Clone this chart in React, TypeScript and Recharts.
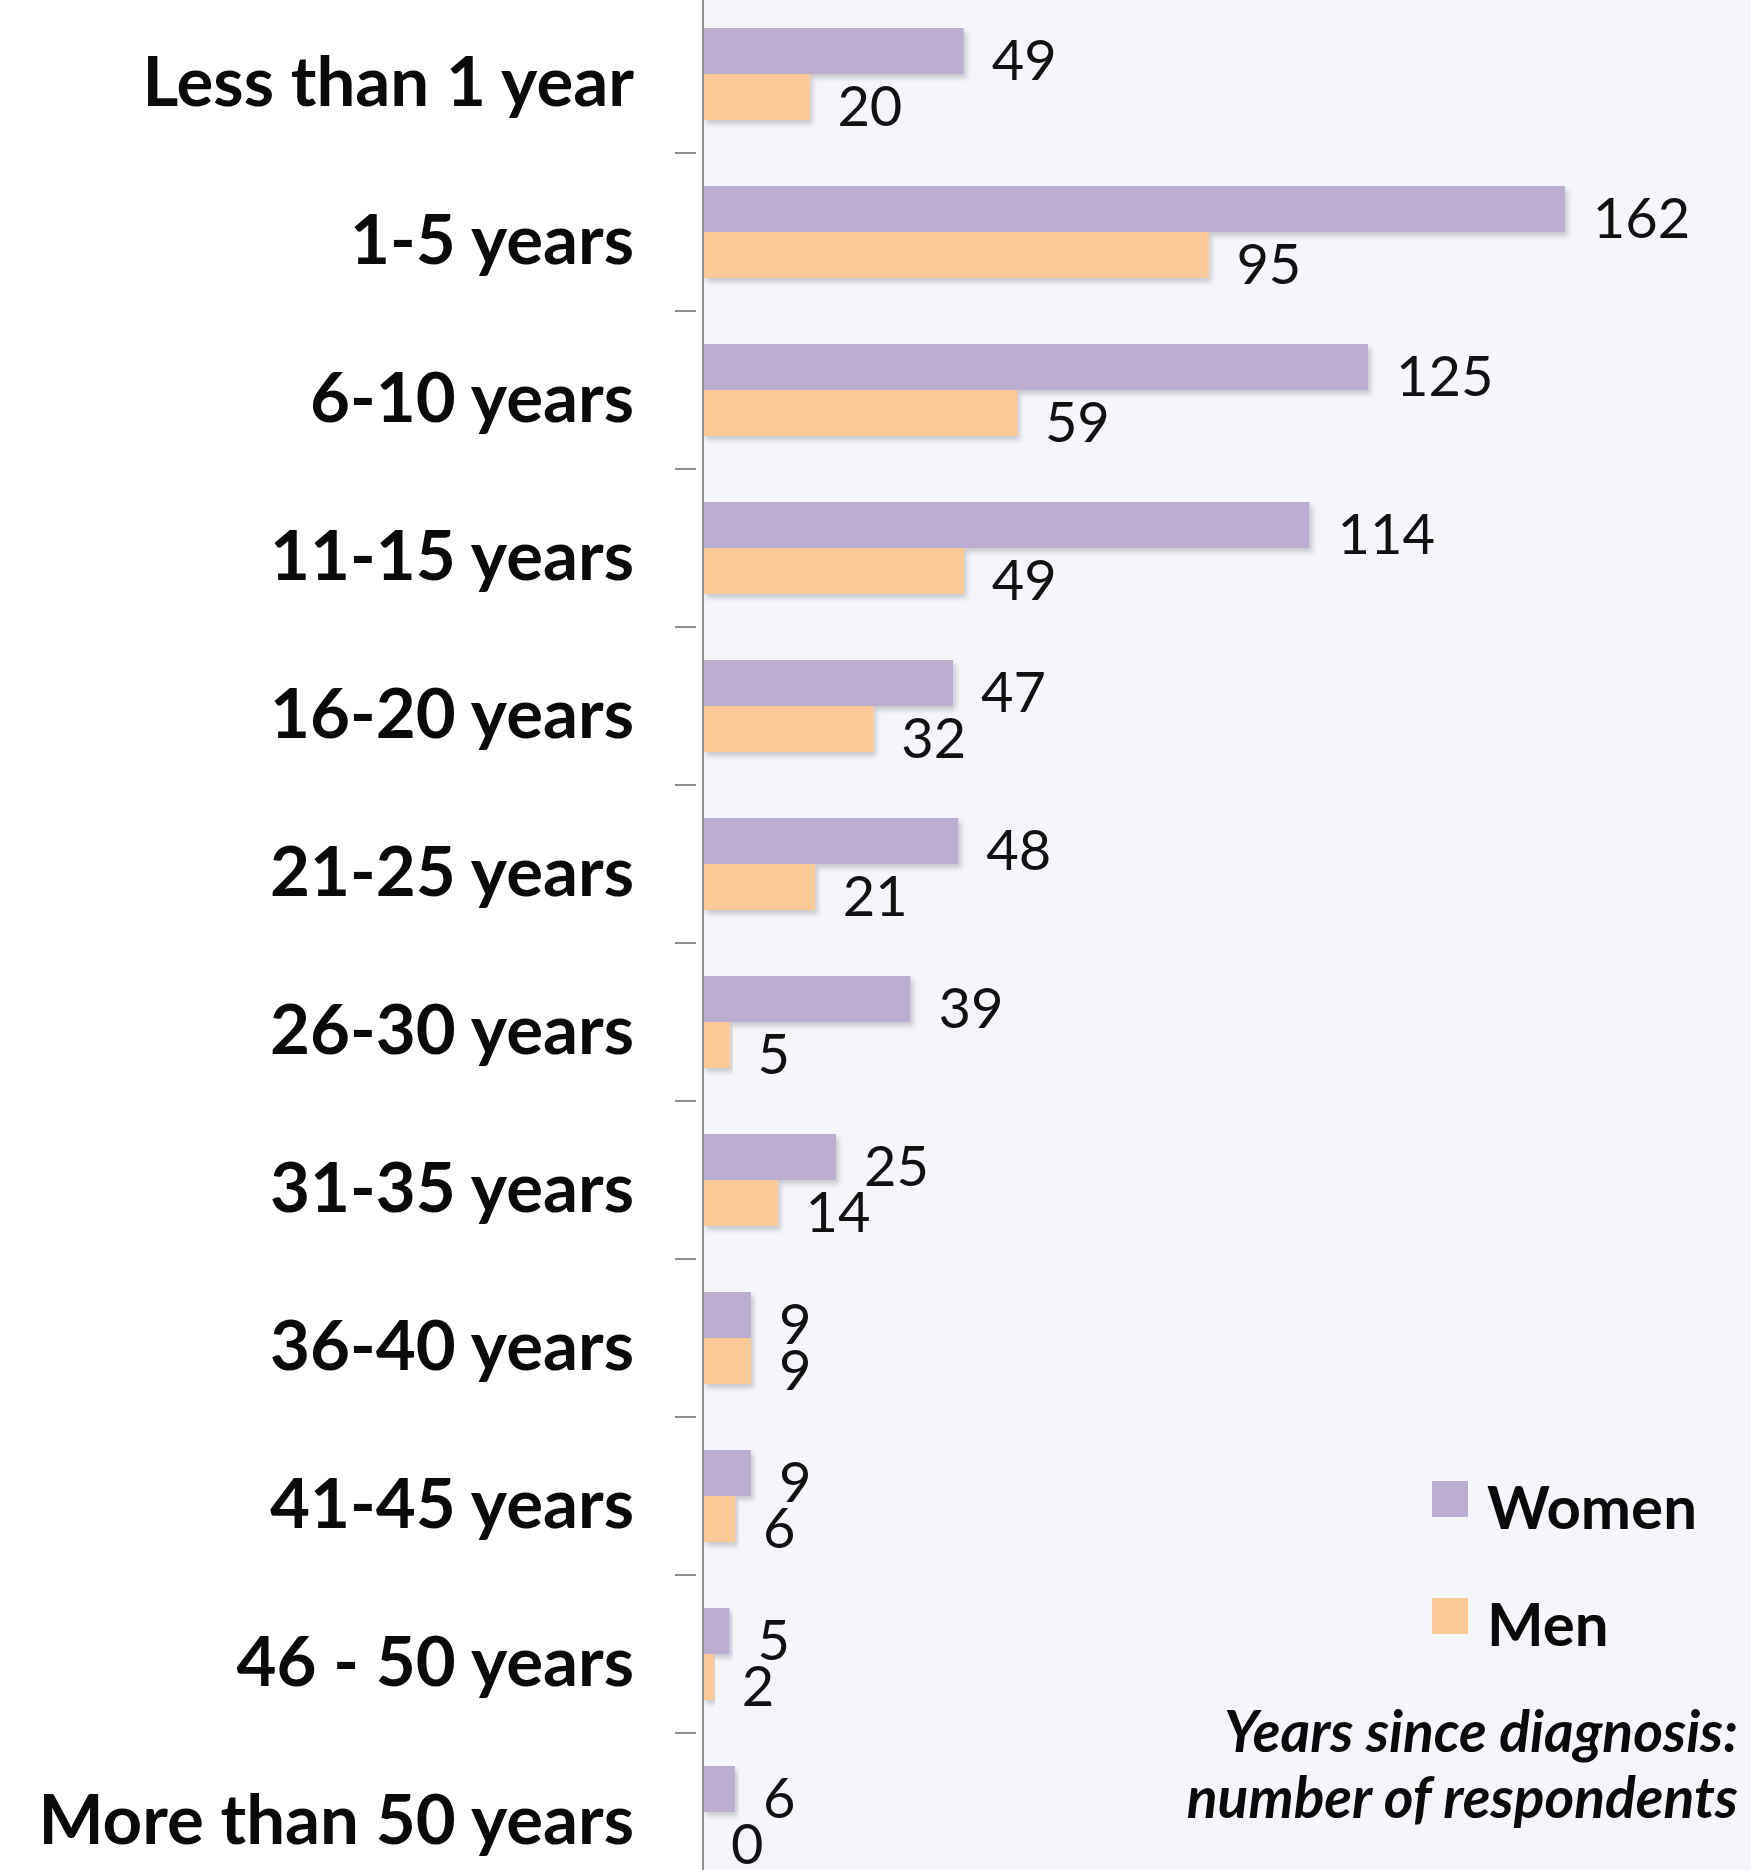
import React from "react";
import { BarChart, Bar, XAxis, YAxis, CartesianGrid, LabelList, Legend } from "recharts";

const CATEGORIES = [
  "Less than 1 year",
  "1-5 years",
  "6-10 years",
  "11-15 years",
  "16-20 years",
  "21-25 years",
  "26-30 years",
  "31-35 years",
  "36-40 years",
  "41-45 years",
  "46 - 50 years",
  "More than 50 years",
];
const WOMEN = [49, 162, 125, 114, 47, 48, 39, 25, 9, 9, 5, 6];
const MEN = [20, 95, 59, 49, 32, 21, 5, 14, 9, 6, 2, 0];
const X_MAX = 200;

const SERIES = [
  { key: "women", name: "Women", color: "#bcaed0" },
  { key: "men", name: "Men", color: "#fbc998" },
];

const data = CATEGORIES.map((name, i) => ({ name, women: WOMEN[i], men: MEN[i] }));

const CHART_W = 1767;
const CHART_H = 1896;
const AXIS_W = 703;
const AXIS_COLOR = "#8f8f8f";
const FONT = "Lato, 'Open Sans', sans-serif";

function CategoryTick(props: any) {
  const { x, y, payload } = props;
  const band = CHART_H / CATEGORIES.length;
  return (
    <g>
      <text x={x - 61} y={y + 32} textAnchor="end" fontFamily={FONT} fontWeight={700} fontSize={69} fill="#0a0a0a">
        {payload.value}
      </text>
      <line x1={x - 20} x2={x + 1} y1={y + band / 2} y2={y + band / 2} stroke={AXIS_COLOR} strokeWidth={2} />
    </g>
  );
}

function ValueLabel(props: any) {
  const { x, y, width, height, value } = props;
  return (
    <text x={x + width + 28} y={y + height / 2 + 29} fontFamily={FONT} fontSize={56} fill="#111">
      {value}
    </text>
  );
}

function BarShape(props: any) {
  const { x, y, width, height, fill } = props;
  if (!width) return null;
  return <rect x={x} y={y} width={width} height={height} fill={fill} filter="url(#barShadow)" />;
}

function LegendBox({ payload }: any) {
  const order = SERIES.map((s) => s.name);
  const items = [...(payload || [])].sort((a: any, b: any) => order.indexOf(a.value) - order.indexOf(b.value));
  return (
    <div style={{ fontFamily: FONT }}>
      {items.map((p: any) => (
        <div key={p.value} style={{ display: "flex", alignItems: "center", height: 117 }}>
          <div style={{ width: 36, height: 36, background: p.color, marginRight: 19, marginTop: -14 }} />
          <span style={{ fontSize: 60, fontWeight: 700, color: "#0a0a0a" }}>{p.value}</span>
        </div>
      ))}
    </div>
  );
}

export default function App() {
  return (
    <div
      style={{
        position: "absolute",
        top: 0,
        left: 0,
        width: 1751,
        height: 1870,
        overflow: "hidden",
        background: "#ffffff",
      }}
    >
      <div style={{ position: "absolute", top: -5, left: 0 }}>
        <BarChart
          width={CHART_W}
          height={CHART_H}
          data={data}
          layout="vertical"
          margin={{ top: 0, right: 0, bottom: 0, left: 0 }}
          barSize={46}
          barGap={0}
        >
          <defs>
            <filter id="barShadow" x="-5%" y="-20%" width="115%" height="160%">
              <feDropShadow dx="3" dy="4" stdDeviation="2.5" floodColor="#000" floodOpacity="0.18" />
            </filter>
          </defs>
          <CartesianGrid fill="#f4f6fc" horizontal={false} vertical={false} stroke="none" />
          <XAxis type="number" domain={[0, X_MAX]} hide />
          <YAxis
            type="category"
            dataKey="name"
            width={AXIS_W}
            tickLine={false}
            axisLine={{ stroke: AXIS_COLOR, strokeWidth: 2 }}
            tick={<CategoryTick />}
            interval={0}
          />
          <Legend
            layout="vertical"
            align="center"
            verticalAlign="middle"
            wrapperStyle={{ left: 1432, top: 1452, width: 330, height: 240 }}
            content={<LegendBox />}
          />
          {SERIES.map((s) => (
            <Bar
              key={s.key}
              dataKey={s.key}
              name={s.name}
              fill={s.color}
              shape={<BarShape />}
              isAnimationActive={false}
            >
              <LabelList dataKey={s.key} content={<ValueLabel />} />
            </Bar>
          ))}
        </BarChart>
      </div>
      <div
        style={{
          position: "absolute",
          right: 13,
          top: 1697,
          textAlign: "right",
          fontFamily: FONT,
          fontStyle: "italic",
          fontWeight: 700,
          fontSize: 57,
          lineHeight: "66px",
          color: "#0a0a0a",
        }}
      >
        Years since diagnosis:
        <br />
        number of respondents
      </div>
    </div>
  );
}
